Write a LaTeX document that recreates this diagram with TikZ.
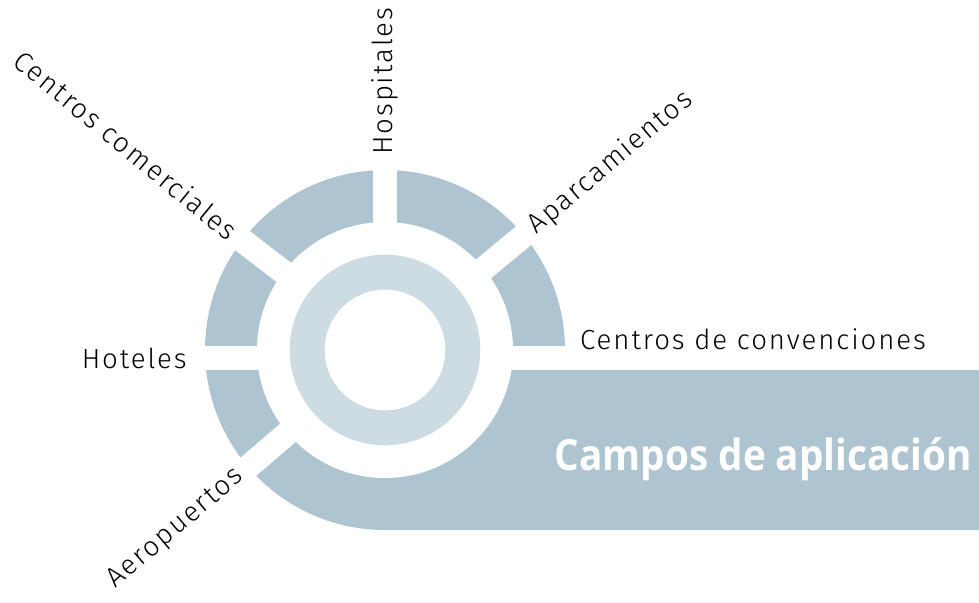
\documentclass[tikz,border=0pt]{standalone}
\usepackage{fontspec}
\newfontfamily\labelfont{Fira Sans Light}[LetterSpace=7]
\newfontfamily\titlefont{Open Sans}
\definecolor{ringblue}{RGB}{174,197,209}
\definecolor{ringpale}{RGB}{205,219,227}
\begin{document}
\begin{tikzpicture}[x=1pt,y=1pt,
    lbl/.style={font=\labelfont\fontsize{27.6}{30}\selectfont,inner sep=0pt},
    title/.style={font=\titlefont\bfseries\fontsize{43}{48}\selectfont,
      text=white,inner sep=0pt,xscale=0.9,transform shape},
    gap/.style={white,line width=24pt}]
  \useasboundingbox (-385,-252) rectangle (594,350);
  \coordinate (c) at (0,0);
  % outer ring, joined to the band on the right
  \fill[ringblue] (c) circle (180);
  \fill[ringblue] (0,-180) rectangle (594,-20);
  % white cuts between the segments
  \foreach \a in {39.5,90,142.5,220.5}
    \draw[gap] (\a:100) -- (\a:200);
  \draw[gap] (-200,-8) -- (200,-8);
  % inner rings
  \fill[white] (c) circle (128);
  \fill[ringpale] (c) circle (95.3);
  \fill[white] (c) circle (60.3);
  % labels on the rays
  \node[lbl,rotate=90,anchor=west] (hosp) at (90:195) {Hospitales};
  \node[lbl,rotate=40,anchor=west] (aparc) at (39.5:190) {Aparcamientos};
  \node[lbl,rotate=-39.5,anchor=east] (comer) at (142.5:190) {Centros comerciales};
  \node[lbl,rotate=40.5,anchor=east] (aero) at (220.5:190) {Aeropuertos};
  \node[lbl,anchor=east] (hot) at (-198,-8) {Hoteles};
  \node[lbl,anchor=west] (conv) at (195,11) {Centros de convenciones};
  \node[title,anchor=base east] (campos) at (587,-120) {Campos de aplicación};
\end{tikzpicture}
\end{document}
